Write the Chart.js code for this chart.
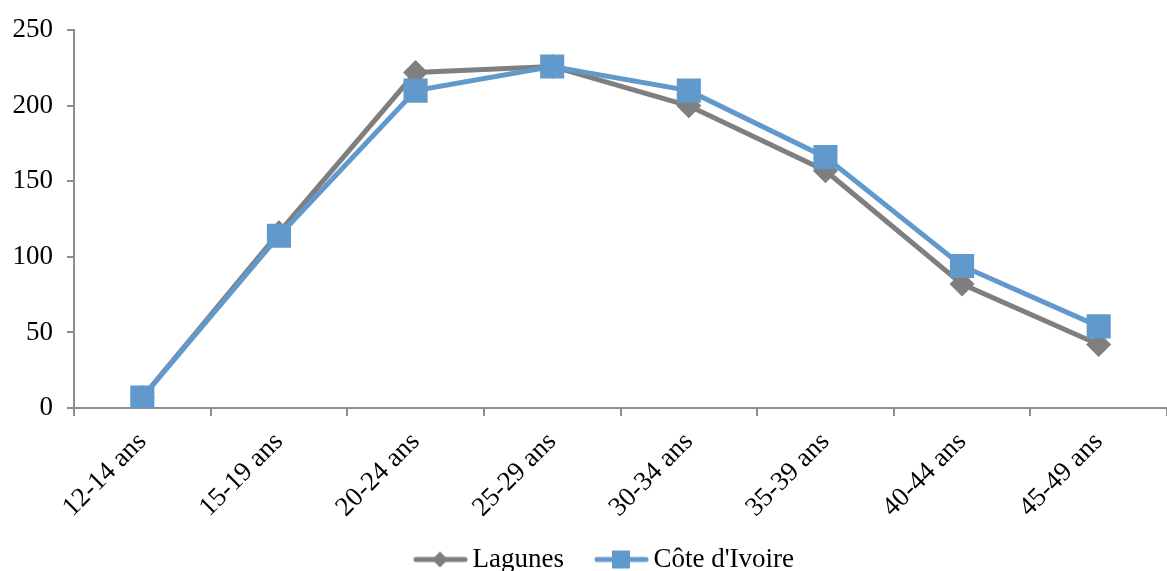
<!DOCTYPE html>
<html>
<head>
<meta charset="utf-8">
<script src="https://cdn.jsdelivr.net/npm/chart.js@4/dist/chart.umd.min.js"></script>
<style>
  html, body { margin: 0; padding: 0; background: #fff; }
  #wrap { width: 1167px; height: 571px; }
</style>
</head>
<body>
<div id="wrap"><canvas id="ageChart"></canvas></div>
<script>
// Data
const ageGroups = ["12-14 ans", "15-19 ans", "20-24 ans", "25-29 ans", "30-34 ans", "35-39 ans", "40-44 ans", "45-49 ans"];
const lagunes = [7, 116, 222, 226, 200, 157, 82, 42];
const coteIvoire = [7, 114, 210, 226, 210, 166, 94, 54];
const yTicks = [0, 50, 100, 150, 200, 250];

const grey = "#7f7f7f";
const blue = "#6199cc";
const axisColor = "#8c8c8c";
const fontFamily = "'Liberation Serif', 'Times New Roman', serif";
const fontSize = 27;

// Excel-style legend swatch: line + marker, sitting in the right part of a wider canvas
// (the empty left part gives the gap between the two legend entries)
function legendSwatch(color, shape) {
  const c = document.createElement("canvas");
  c.width = 84; c.height = 22;
  const g = c.getContext("2d");
  const x0 = 84 - 55;
  g.strokeStyle = color;
  g.lineWidth = 5;
  g.lineCap = "round";
  g.beginPath();
  g.moveTo(x0 + 3, 11); g.lineTo(x0 + 52, 11);
  g.stroke();
  g.fillStyle = color;
  if (shape === "diamond") {
    g.beginPath();
    g.moveTo(x0 + 27, 3); g.lineTo(x0 + 35, 11); g.lineTo(x0 + 27, 19); g.lineTo(x0 + 19, 11);
    g.closePath(); g.fill();
  } else {
    g.fillRect(x0 + 18, 2, 18, 18);
  }
  return c;
}

// nudge the legend a bit to the right, like the original
const shiftLegend = {
  id: "shiftLegend",
  afterLayout(chart) {
    chart.legend.left += 10;
    chart.legend.right += 10;
  }
};

const ctx = document.getElementById("ageChart").getContext("2d");
new Chart(ctx, {
  type: "line",
  data: {
    labels: ageGroups,
    datasets: [
      {
        label: "Lagunes",
        data: lagunes,
        borderColor: grey,
        backgroundColor: grey,
        borderWidth: 5,
        pointStyle: "rectRot",
        pointRadius: 9,
        pointHoverRadius: 9,
        tension: 0,
        order: 1
      },
      {
        label: "Côte d'Ivoire",
        data: coteIvoire,
        borderColor: blue,
        backgroundColor: blue,
        borderWidth: 5,
        pointStyle: "rect",
        pointRadius: 13.5,
        pointHoverRadius: 13.5,
        tension: 0,
        order: 0
      }
    ]
  },
  options: {
    responsive: true,
    maintainAspectRatio: false,
    animation: false,
    layout: { autoPadding: false, padding: { top: 14, right: 0, left: 0, bottom: -12 } },
    plugins: {
      tooltip: { enabled: false },
      legend: {
        position: "bottom",
        labels: {
          usePointStyle: true,
          pointStyleWidth: 66,
          padding: 10,
          color: "#000",
          font: { family: fontFamily, size: fontSize },
          generateLabels: function(chart) {
            return chart.data.datasets.map((ds, i) => ({
              text: ds.label,
              fillStyle: ds.borderColor,
              strokeStyle: ds.borderColor,
              lineWidth: 0,
              pointStyle: legendSwatch(ds.borderColor, i === 0 ? "diamond" : "square"),
              datasetIndex: i,
              hidden: false,
              fontColor: "#000"
            }));
          }
        }
      }
    },
    scales: {
      x: {
        offset: true,
        afterFit: axis => { axis.height = 128; },
        grid: { offset: true, drawOnChartArea: false, drawTicks: true, tickLength: 8, color: axisColor, lineWidth: 2 },
        border: { color: axisColor, width: 2 },
        ticks: {
          color: "#000",
          font: { family: fontFamily, size: fontSize },
          maxRotation: 45,
          minRotation: 45,
          padding: 10
        }
      },
      y: {
        min: 0,
        max: 250,
        afterBuildTicks: axis => { axis.ticks = yTicks.map(v => ({ value: v })); },
        afterFit: axis => { axis.width = 74; },
        grid: { drawOnChartArea: false, drawTicks: true, tickLength: 7, color: axisColor, lineWidth: 2 },
        border: { color: axisColor, width: 2 },
        ticks: {
          color: "#000",
          font: { family: fontFamily, size: fontSize },
          padding: 14
        }
      }
    }
  },
  plugins: [shiftLegend]
});
</script>
</body>
</html>
